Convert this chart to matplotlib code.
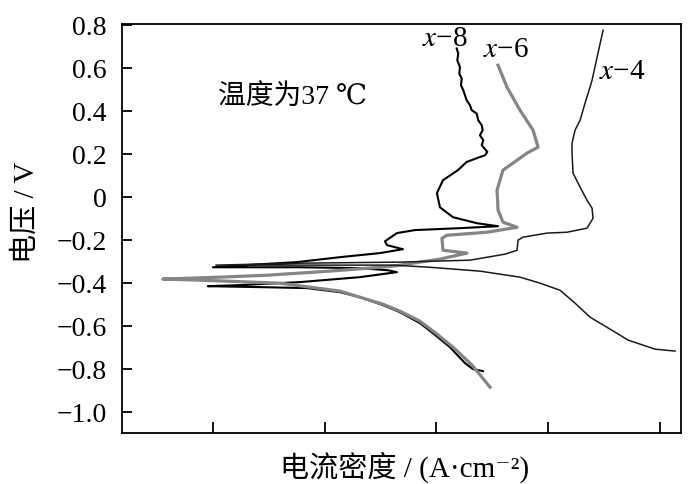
import matplotlib
matplotlib.use('Agg')
import matplotlib.pyplot as plt

# x axis: log10 of current density (decades), y axis: potential in V
# curve x-8 (black), read off the picture from the anodic end downwards
x8_logi = [-5.818, -5.804, -5.813, -5.789, -5.795, -5.773, -5.780, -5.759, -5.744, -5.729,
           -5.699, -5.684, -5.639, -5.625, -5.594, -5.586, -5.610, -5.580, -5.594, -5.544,
           -5.565, -5.610, -5.729, -5.807, -5.941, -5.995, -5.968, -5.851, -5.637, -5.448,
           -5.789, -6.192, -6.353, -6.460, -6.442, -6.299, -6.505, -6.863, -7.248, -7.579,
           -8.000, -7.221, -6.684, -6.433, -6.353, -6.415, -6.684, -7.221, -7.758, -8.045,
           -7.517, -7.158, -6.863, -6.684, -6.478, -6.326, -6.147, -6.030, -5.878, -5.744,
           -5.672, -5.583]
x8_volt = [0.692, 0.668, 0.637, 0.606, 0.575, 0.552, 0.521, 0.498, 0.474, 0.451,
           0.428, 0.405, 0.389, 0.358, 0.335, 0.312, 0.288, 0.265, 0.242, 0.211,
           0.195, 0.187, 0.164, 0.126, 0.079, 0.019, -0.047, -0.093, -0.121, -0.135,
           -0.144, -0.153, -0.167, -0.205, -0.223, -0.242, -0.260, -0.279, -0.302, -0.312,
           -0.326, -0.326, -0.330, -0.340, -0.349, -0.353, -0.372, -0.395, -0.409, -0.414,
           -0.419, -0.423, -0.442, -0.465, -0.502, -0.535, -0.586, -0.633, -0.698, -0.772,
           -0.800, -0.809]

# curve x-6 (grey)
x6_logi = [-5.448, -5.368, -5.252, -5.135, -5.090, -5.189, -5.404, -5.457, -5.448, -5.404,
           -5.278, -5.547, -5.905, -5.950, -5.941, -5.726, -5.968, -6.389, -6.953, -7.517,
           -7.937, -8.448, -8.116, -7.400, -6.863, -6.478, -6.326, -6.147, -6.004, -5.851,
           -5.681, -5.520]
x6_volt = [0.614, 0.512, 0.405, 0.312, 0.233, 0.205, 0.126, 0.033, -0.060, -0.116,
           -0.140, -0.163, -0.177, -0.191, -0.247, -0.260, -0.288, -0.321, -0.344, -0.363,
           -0.372, -0.381, -0.386, -0.400, -0.437, -0.498, -0.530, -0.577, -0.633, -0.698,
           -0.781, -0.884]

# curve x-4 (black, thin), from the cathodic end
x4_logi = [-3.864, -4.043, -4.204, -4.285, -4.356, -4.625, -4.759, -4.893, -5.072, -5.252,
           -5.610, -6.057, -6.389, -7.221, -7.973, -7.221, -6.326, -5.699, -5.386, -5.278,
           -5.269, -5.225, -5.010, -4.831, -4.652, -4.598, -4.607, -4.652, -4.714, -4.777,
           -4.786, -4.786, -4.759, -4.714, -4.670, -4.625, -4.607, -4.562, -4.508]
x4_volt = [-0.716, -0.707, -0.679, -0.665, -0.642, -0.558, -0.493, -0.433, -0.400, -0.372,
           -0.344, -0.326, -0.316, -0.316, -0.316, -0.307, -0.302, -0.293, -0.265, -0.247,
           -0.200, -0.186, -0.167, -0.163, -0.144, -0.098, -0.051, -0.014, 0.047, 0.112,
           0.205, 0.251, 0.312, 0.358, 0.437, 0.512, 0.544, 0.651, 0.777]

y_ticks = [-1.0, -0.8, -0.6, -0.4, -0.2, 0, 0.2, 0.4, 0.6, 0.8]
y_tick_labels = ['\u22121.0', '\u22120.8', '\u22120.6', '\u22120.4', '\u22120.2',
                 '0', '0.2', '0.4', '0.6', '0.8']
x_ticks = [-8, -7, -6, -5, -4]

plt.rcParams['font.family'] = ['Liberation Serif', 'DejaVu Serif', 'Noto Sans CJK SC']
plt.rcParams['mathtext.fontset'] = 'stix'

fig = plt.figure(figsize=(7, 4.84), dpi=100)
ax = fig.add_axes([0.174, 0.105, 0.799, 0.845])

ax.plot(x8_logi, x8_volt, color='black', lw=1.5)
ax.plot(x6_logi, x6_volt, color='#858585', lw=2.3)
ax.plot(x4_logi, x4_volt, color='#1a1a1a', lw=1.1)

ax.set_xlim(-8.815, -3.81)
ax.set_ylim(-1.098, 0.805)
ax.set_xticks(x_ticks)
ax.set_xticklabels([])
ax.set_yticks(y_ticks)
ax.set_yticklabels(y_tick_labels, fontsize=20)
ax.tick_params(axis='y', direction='in', length=7, width=1.3, pad=11)
ax.tick_params(axis='x', direction='in', length=8, width=1.3)
for s in ax.spines.values():
    s.set_linewidth(1.3)

ax.set_ylabel('电压 / V', fontsize=21)
ax.yaxis.set_label_coords(-0.147, 0.54)
ax.set_xlabel('电流密度 / (A·cm\u207b\u00b2)', fontsize=21)
ax.xaxis.set_label_coords(0.506, -0.044)

ax.text(-5.923, 0.735, '$x$\u22128', fontsize=21, ha='center', va='center')
ax.text(-5.377, 0.684, '$x$\u22126', fontsize=21, ha='center', va='center')
ax.text(-4.338, 0.581, '$x$\u22124', fontsize=21, ha='center', va='center')
ax.text(-7.955, 0.465, '温度为37 ℃', fontsize=20, ha='left', va='center')

fig.savefig('out.png', dpi=100)
